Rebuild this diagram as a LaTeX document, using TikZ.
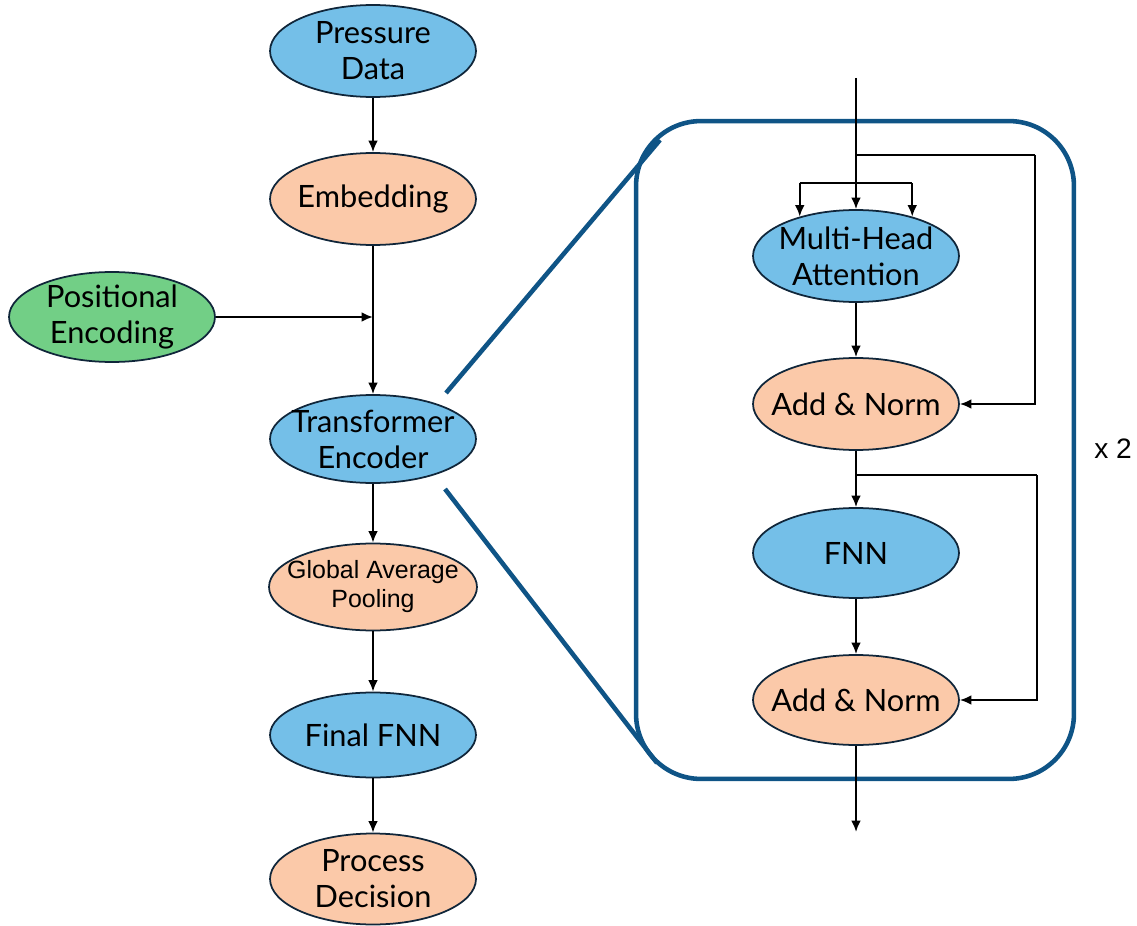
\documentclass[tikz,border=0pt]{standalone}
\usepackage{fontspec}
\setmainfont{Lato}
\newfontfamily\arialf{Liberation Sans}
\usetikzlibrary{shapes.geometric,arrows.meta}
\definecolor{cblue}{HTML}{74BFE8}
\definecolor{cpeach}{HTML}{FBC9A9}
\definecolor{cgreen}{HTML}{72CF86}
\definecolor{cline}{HTML}{10263A}
\definecolor{cbox}{HTML}{0F5486}
\tikzset{
  ell/.style={ellipse, draw=cline, line width=1pt, inner xsep=-12pt, inner ysep=-10pt,
    minimum width=4.12cm, minimum height=1.84cm, align=center,
    font=\fontsize{17.5}{20.5}\selectfont},
  eblue/.style={ell, fill=cblue},
  epeach/.style={ell, fill=cpeach},
  egreen/.style={ell, fill=cgreen},
  arr/.style={-{Latex[length=6.5pt,width=5.5pt]}, line width=1.1pt, black},
  ln/.style={line width=1pt, black},
  zoomln/.style={line width=2.6pt, cbox},
}
\begin{document}
\begin{tikzpicture}[x=0.02cm,y=-0.02cm]
\useasboundingbox (0,0) rectangle (1137,926);
% left column
\node[eblue] (pd) at (373,51) {Pressure\\Data};
\node[epeach] (emb) at (373,199) {Embedding};
\node[egreen, minimum height=1.8cm] (pe) at (112,317) {Positional\\Encoding};
\node[eblue, minimum height=1.76cm] (te) at (373,439) {Transformer\\Encoder};
\node[epeach, minimum width=4.16cm, minimum height=1.74cm, font=\arialf\fontsize{14.2}{16.5}\selectfont] (gap) at (373,587) {Global Average\\Pooling};
\node[eblue, minimum height=1.7cm] (ffnn) at (373,735) {Final FNN};
\node[epeach, minimum height=1.82cm] (dec) at (373,879) {Process\\Decision};
\coordinate (j1) at (emb.south |- pe.east);
\draw[arr] (pd) -- (emb);
\draw[arr] (emb) -- (te);
\draw[arr] (pe.east) -- (j1);
\draw[arr] (te) -- (gap);
\draw[arr] (gap) -- (ffnn);
\draw[arr] (ffnn) -- (dec);
% box
\node[draw=cbox, line width=2.6pt, rounded corners=1.3cm, minimum width=8.76cm, minimum height=13.16cm, inner sep=0pt] (box) at (855,450) {};
\coordinate (z1) at (446,393);
\coordinate (z1b) at (660,140);
\coordinate (z2) at (445,489);
\coordinate (z2b) at (657,763);
\draw[zoomln] (z1) -- (z1b);
\draw[zoomln] (z2) -- (z2b);
% right column
\node[eblue] (mha) at (856,256) {Multi-Head\\Attention};
\node[epeach] (an1) at (856,404) {Add \& Norm};
\node[eblue, minimum height=1.8cm] (fnn) at (856,553) {FNN};
\node[epeach, minimum height=1.8cm] (an2) at (856,700) {Add \& Norm};
\coordinate (top) at (856,78);
\coordinate (br1) at (856,155);
\coordinate (sp) at (856,183);
\coordinate (r1) at (1035,155);
\coordinate (br2) at (856,475);
\coordinate (r2) at (1037,475);
\coordinate (out) at (856,832);
\draw[arr] (top) -- (mha.north);
\draw[ln] (mha.145 |- sp) -- (mha.35 |- sp);
\draw[arr] (mha.145 |- sp) -- (mha.145);
\draw[arr] (mha.35 |- sp) -- (mha.35);
\draw[ln] (br1) -- (r1);
\draw[arr] (r1) -- (r1 |- an1.east) -- (an1.east);
\draw[arr] (mha) -- (an1);
\draw[arr] (an1.south) -- (fnn.north);
\draw[ln] (br2) -- (r2);
\draw[arr] (r2) -- (r2 |- an2.east) -- (an2.east);
\draw[arr] (fnn) -- (an2);
\draw[arr] (an2.south) -- (out);
\node[font=\arialf\fontsize{16}{18}\selectfont] (x2) at (1113,449) {x 2};
\end{tikzpicture}
\end{document}
